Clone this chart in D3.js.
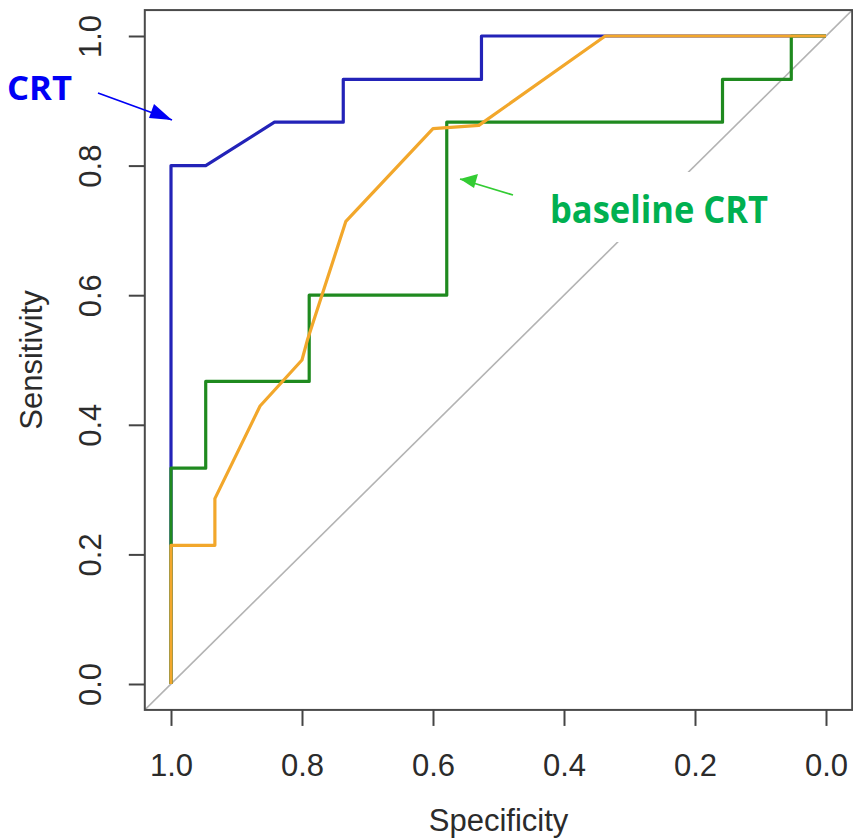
<!DOCTYPE html>
<html>
<head>
<meta charset="utf-8">
<script src="https://d3js.org/d3.v7.min.js"></script>
<style>
    html, body {
        margin: 0;
        padding: 0;
        background-color: white;
    }
    .axis text {
        font-family: "Liberation Sans", Arial, sans-serif;
        font-size: 31px;
        fill: #2b2b2b;
    }
    .axis line {
        stroke: #444;
        stroke-width: 2;
    }
</style>
</head>
<body>
<script>

    // DATA (specificity, sensitivity)
    const crtSpec = [1, 1, 0.947, 0.842, 0.737, 0.737, 0.526, 0.526, 0];
    const crtSens = [0, 0.8, 0.8, 0.867, 0.867, 0.933, 0.933, 1, 1];

    const baseSpec = [1, 1, 0.947, 0.947, 0.789, 0.789, 0.579, 0.579, 0.158, 0.158, 0.053, 0.053, 0];
    const baseSens = [0, 0.333, 0.333, 0.467, 0.467, 0.6, 0.6, 0.867, 0.867, 0.933, 0.933, 1, 1];

    const thirdSpec = [1, 1, 0.933, 0.933, 0.864, 0.8, 0.792, 0.733, 0.6, 0.53, 0.337, 0];
    const thirdSens = [0, 0.214, 0.214, 0.286, 0.429, 0.5, 0.53, 0.714, 0.857, 0.862, 1, 1];

    const tickValues = [1.0, 0.8, 0.6, 0.4, 0.2, 0.0];

    // DESIGN CONSTANTS
    const width = 853;
    const height = 839;

    const svg = d3.select("body").append("svg")
        .attr("width", width)
        .attr("height", height);

    // scales (R style: 4% padding round the data range)
    const x = d3.scaleLinear().domain([1, 0]).range([171, 826]);
    const y = d3.scaleLinear().domain([0, 1]).range([684, 36]);

    const boxL = x(1.04), boxR = x(-0.04), boxT = y(1.04), boxB = y(-0.04);

    // clip for the plot region
    svg.append("clipPath").attr("id", "plotClip")
        .append("rect")
        .attr("x", boxL).attr("y", boxT)
        .attr("width", boxR - boxL).attr("height", boxB - boxT);

    const plot = svg.append("g").attr("clip-path", "url(#plotClip)");

    // chance diagonal
    plot.append("line")
        .attr("x1", x(1.04)).attr("y1", y(-0.04))
        .attr("x2", x(-0.04)).attr("y2", y(1.04))
        .attr("stroke", "#b3b3b3")
        .attr("stroke-width", 1.6);

    const line = d3.line()
        .x(d => x(d[0]))
        .y(d => y(d[1]));

    function drawCurve(spec, sens, color) {
        plot.append("path")
            .datum(spec.map((s, i) => [s, sens[i]]))
            .attr("d", line)
            .attr("fill", "none")
            .attr("stroke", color)
            .attr("stroke-width", 3.2)
            .attr("stroke-linejoin", "round");
    }

    drawCurve(crtSpec, crtSens, "#2323b8");
    drawCurve(baseSpec, baseSens, "#1f8a1f");
    drawCurve(thirdSpec, thirdSens, "#f2a72b");

    // box
    svg.append("rect")
        .attr("x", boxL).attr("y", boxT)
        .attr("width", boxR - boxL).attr("height", boxB - boxT)
        .attr("fill", "none")
        .attr("stroke", "#4a4a4a")
        .attr("stroke-width", 2);

    // axes
    const xAxis = d3.axisBottom(x)
        .tickValues(tickValues)
        .tickFormat(d3.format(".1f"))
        .tickSize(16)
        .tickPadding(28);

    svg.append("g")
        .attr("class", "axis")
        .attr("transform", `translate(0 ${boxB})`)
        .call(xAxis)
        .call(g => g.select(".domain").remove());

    const yAxis = d3.axisLeft(y)
        .tickValues(tickValues)
        .tickFormat(d3.format(".1f"))
        .tickSize(16);

    svg.append("g")
        .attr("class", "axis")
        .attr("transform", `translate(${boxL} 0)`)
        .call(yAxis)
        .call(g => g.select(".domain").remove())
        .call(g => g.selectAll("text")
            .attr("transform", "rotate(-90)")
            .attr("x", 0)
            .attr("y", -44)
            .attr("dy", 0)
            .attr("text-anchor", "middle"));

    // axis titles
    svg.append("text")
        .attr("x", (boxL + boxR) / 2)
        .attr("y", 831)
        .attr("text-anchor", "middle")
        .attr("font-family", "Liberation Sans, Arial, sans-serif")
        .attr("font-size", 31)
        .attr("fill", "#2b2b2b")
        .text("Specificity");

    svg.append("text")
        .attr("transform", `translate(42 ${(boxT + boxB) / 2}) rotate(-90)`)
        .attr("text-anchor", "middle")
        .attr("font-family", "Liberation Sans, Arial, sans-serif")
        .attr("font-size", 31)
        .attr("fill", "#2b2b2b")
        .text("Sensitivity");

    // white box behind the green label
    svg.append("rect")
        .attr("x", 528).attr("y", 172)
        .attr("width", 265).attr("height", 70)
        .attr("fill", "white");

    // annotations
    svg.append("text")
        .attr("x", 7).attr("y", 100)
        .attr("font-family", "Open Sans, Noto Sans, sans-serif")
        .attr("font-weight", "bold")
        .attr("font-size", 34)
        .attr("fill", "#0000f5")
        .attr("textLength", 65)
        .attr("lengthAdjust", "spacingAndGlyphs")
        .text("CRT");

    svg.append("text")
        .attr("x", 550).attr("y", 223)
        .attr("font-family", "Open Sans, Noto Sans, sans-serif")
        .attr("font-weight", "bold")
        .attr("font-size", 37)
        .attr("fill", "#00b050")
        .attr("textLength", 218)
        .attr("lengthAdjust", "spacingAndGlyphs")
        .text("baseline CRT");

    // arrows
    svg.append("path")
        .attr("d", "M98,93 L172,120")
        .attr("stroke", "#0000f5")
        .attr("stroke-width", 1.8)
        .attr("fill", "none");
    svg.append("path")
        .attr("d", "M172,120 L154,104 L149,118 Z")
        .attr("fill", "#0000f5");

    svg.append("path")
        .attr("d", "M513,195 L460,179")
        .attr("stroke", "#33cc33")
        .attr("stroke-width", 1.8)
        .attr("fill", "none");
    svg.append("path")
        .attr("d", "M460,179 L478,174 L474,188 Z")
        .attr("fill", "#33cc33");

</script>
</body>
</html>
